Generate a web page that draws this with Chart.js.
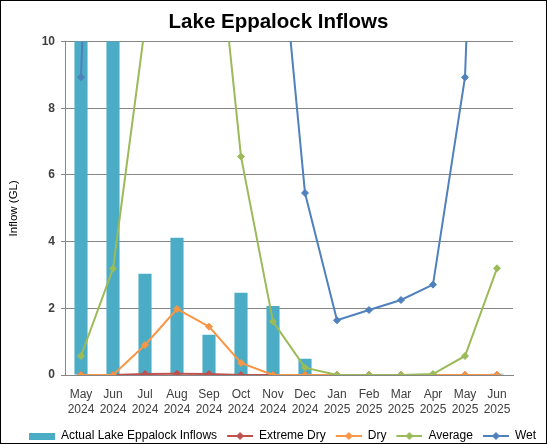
<!DOCTYPE html>
<html>
<head>
<meta charset="utf-8">
<script src="https://cdn.jsdelivr.net/npm/chart.js@4"></script>
<style>
  html, body { margin: 0; padding: 0; background: #fff; }
  #wrap { width: 545px; height: 442px; border: 1px solid #000; position: relative; overflow: hidden; }
</style>
</head>
<body>
<div id="wrap"><canvas id="chart"></canvas></div>
<script>
// Categories (month / year)
const months = [
  ["May", "2024"], ["Jun", "2024"], ["Jul", "2024"], ["Aug", "2024"],
  ["Sep", "2024"], ["Oct", "2024"], ["Nov", "2024"], ["Dec", "2024"],
  ["Jan", "2025"], ["Feb", "2025"], ["Mar", "2025"], ["Apr", "2025"],
  ["May", "2025"], ["Jun", "2025"]
];

// Series values (GL) - values above 10 run off the top of the chart
const actualInflows = [25, 30, 3.04, 4.12, 1.21, 2.47, 2.07, 0.49, 0, 0, 0, 0, 0, 0.04];
const extremeDry = [0, 0, 0.03, 0.04, 0.03, 0, 0, 0, 0, 0, 0, 0, 0, 0];
const dry = [0, 0, 0.9, 1.98, 1.45, 0.36, 0, 0, 0, 0, 0, 0, 0, 0];
const average = [0.57, 3.19, 10.46, 14, 15.8, 6.55, 1.6, 0.22, 0, 0, 0, 0.03, 0.57, 3.2];
const wet = [8.93, 35, 40, 45, 40, 25, 15.6, 5.46, 1.64, 1.95, 2.25, 2.71, 8.93, 35];

const yTicks = [0, 2, 4, 6, 8, 10];

const FONT = "'Liberation Sans', Arial, sans-serif";

// legend swatches, with a transparent strip on the left as spacing
// between legend entries
const GAP = 8;
function lineSwatch(color) {
  const c = document.createElement("canvas");
  c.width = 26 + GAP; c.height = 10;
  const g = c.getContext("2d");
  g.strokeStyle = color; g.lineWidth = 2;
  g.beginPath(); g.moveTo(GAP, 5); g.lineTo(GAP + 26, 5); g.stroke();
  g.fillStyle = color;
  const m = GAP + 13;
  g.beginPath(); g.moveTo(m, 1); g.lineTo(m + 4, 5); g.lineTo(m, 9); g.lineTo(m - 4, 5); g.closePath(); g.fill();
  return c;
}
function boxSwatch(color) {
  const c = document.createElement("canvas");
  c.width = 26 + GAP; c.height = 7;
  const g = c.getContext("2d");
  g.fillStyle = color; g.fillRect(GAP, 0, 26, 7);
  return c;
}

function lineSet(label, data, color, order) {
  return {
    type: "line",
    label: label,
    data: data,
    borderColor: color,
    backgroundColor: color,
    borderWidth: 2,
    pointStyle: "rectRot",
    pointRadius: 3.5,
    pointBorderWidth: 1,
    tension: 0,
    order: order,
    swatch: lineSwatch(color)
  };
}

const ctx = document.getElementById("chart").getContext("2d");
new Chart(ctx, {
  data: {
    labels: months,
    datasets: [
      {
        type: "bar",
        label: "Actual Lake Eppalock Inflows",
        data: actualInflows,
        backgroundColor: "#4BACC6",
        barPercentage: 0.41,
        categoryPercentage: 1,
        order: 5,
        swatch: boxSwatch("#4BACC6")
      },
      lineSet("Extreme Dry", extremeDry, "#C0504D", 4),
      lineSet("Dry", dry, "#F79646", 3),
      lineSet("Average", average, "#9BBB59", 2),
      lineSet("Wet", wet, "#4F81BD", 1)
    ]
  },
  options: {
    responsive: true,
    maintainAspectRatio: false,
    animation: false,
    layout: { padding: { left: 10, right: 0, top: 0, bottom: -9 } },
    plugins: {
      title: {
        display: true,
        text: "Lake Eppalock Inflows",
        color: "#000",
        font: { family: FONT, size: 20.5, weight: "bold" },
        padding: { top: 9, bottom: 7 }
      },
      legend: {
        position: "bottom",
        labels: {
          usePointStyle: true,
          pointStyleWidth: 26 + GAP,
          color: "#000",
          font: { family: FONT, size: 12 },
          padding: 2,
          sort: (a, b) => a.datasetIndex - b.datasetIndex,
          generateLabels: (chart) => chart.data.datasets.map((ds, i) => ({
            text: ds.label,
            pointStyle: ds.swatch,
            fillStyle: ds.backgroundColor,
            strokeStyle: ds.borderColor || ds.backgroundColor,
            lineWidth: 0,
            hidden: false,
            datasetIndex: i
          }))
        }
      },
      tooltip: { enabled: false }
    },
    scales: {
      x: {
        grid: { display: false, drawTicks: false },
        border: { color: "#868686" },
        ticks: {
          color: "#404040",
          font: { family: FONT, size: 12, lineHeight: 1.25 },
          padding: 12,
          maxRotation: 0,
          autoSkip: false
        },
        afterFit: (scale) => { scale.height = 53; }
      },
      y: {
        min: 0,
        max: 10,
        afterBuildTicks: (scale) => { scale.ticks = yTicks.map(v => ({ value: v })); },
        grid: { color: "#868686", tickLength: 4, tickColor: "#868686" },
        border: { color: "#868686" },
        ticks: {
          color: "#404040",
          font: { family: FONT, size: 12, weight: "bold" },
          padding: 6
        },
        title: {
          display: true,
          text: "Inflow (GL)",
          color: "#000",
          font: { family: FONT, size: 11.5 },
          padding: { top: -4, bottom: 0 }
        },
        afterFit: (scale) => { scale.width = 54; }
      },
      // empty right-hand axis, only to keep the gap on the right of the plot
      yRight: {
        position: "right",
        display: true,
        grid: { display: false, drawTicks: false },
        border: { display: false },
        ticks: { display: false },
        afterFit: (scale) => { scale.width = 33; }
      }
    }
  }
});
</script>
</body>
</html>
